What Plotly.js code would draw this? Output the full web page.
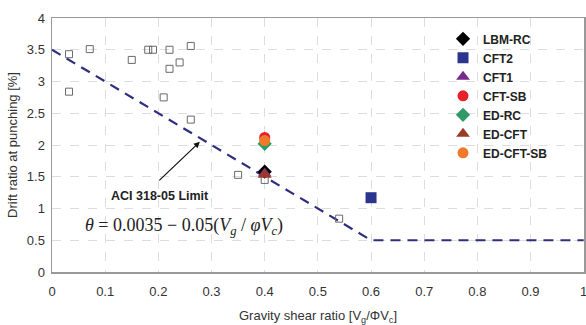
<!DOCTYPE html>
<html><head><meta charset="utf-8">
<script src="https://cdn.plot.ly/plotly-3.0.1.min.js"></script>
<style>html,body{margin:0;padding:0;background:#fff}#chart{width:586px;height:325px}</style>
</head><body><div id="chart"></div>
<script>
// Existing test database (open squares)
const dbX = [0.032, 0.032, 0.071, 0.15, 0.181, 0.19, 0.221, 0.221, 0.24, 0.21, 0.261, 0.261, 0.35, 0.40, 0.54];
const dbY = [3.43, 2.84, 3.51, 3.34, 3.50, 3.50, 3.50, 3.20, 3.30, 2.75, 3.56, 2.40, 1.53, 1.45, 0.84];
// ACI 318-05 limit line
const limitX = [0, 0.6, 1.0];
const limitY = [3.5, 0.5, 0.5];
// Specimens
const specNames = ["LBM-RC", "CFT2", "CFT1", "CFT-SB", "ED-RC", "ED-CFT", "ED-CFT-SB"];
const specX = [0.4, 0.6, 0.4, 0.4, 0.4, 0.4, 0.4];
const specY = [1.58, 1.17, 1.55, 2.12, 2.02, 1.53, 2.07];
const specSymbols = ["diamond", "square", "triangle-up", "circle", "diamond", "triangle-up", "circle"];
const specColors = ["#000000", "#2b3590", "#7a2a8c", "#e8202a", "#2f9a68", "#9a3b28", "#f07a2a"];
const specSizes = [11, 11, 12, 11, 11, 12, 11];
// Tick values
const xTicks = [0, 0.1, 0.2, 0.3, 0.4, 0.5, 0.6, 0.7, 0.8, 0.9, 1];
const xTickText = ["0", "0.1", "0.2", "0.3", "0.4", "0.5", "0.6", "0.7", "0.8", "0.9", "1"];
const yTicks = [0, 0.5, 1, 1.5, 2, 2.5, 3, 3.5, 4];
const yTickText = ["0", "0.5", "1", "1.5", "2", "2.5", "3", "3.5", "4"];

const traces = [];
traces.push({x: limitX, y: limitY, mode: "lines", showlegend: false, hoverinfo: "skip",
  line: {color: "#2e2e80", width: 2.2, dash: "10px,7px"}});
traces.push({x: dbX, y: dbY, mode: "markers", showlegend: false,
  marker: {symbol: "square-open", size: 7, color: "#6a6a6a", line: {width: 1}}});
for (let i = 0; i < specNames.length; i++) {
  traces.push({x: [specX[i]], y: [specY[i]], mode: "markers", name: specNames[i],
    marker: {symbol: specSymbols[i], size: specSizes[i], color: specColors[i]}});
}

const layout = {
  width: 586, height: 325,
  margin: {l: 52, r: 2, t: 18, b: 53},
  paper_bgcolor: "#fff", plot_bgcolor: "#fff",
  font: {family: "Liberation Sans, Arial, sans-serif", size: 13, color: "#333"},
  xaxis: {range: [0, 1.0005], tickmode: "array", tickvals: xTicks, ticktext: xTickText,
    showgrid: true, gridcolor: "#dddddd", griddash: "dash", ticklabeloverflow: "allow",
    zeroline: false, showline: true, linecolor: "#999", linewidth: 1.5, mirror: true, ticks: "",
    tickfont: {size: 13, color: "#333"}, ticklabelstandoff: 7,
    title: {text: "Gravity shear ratio [V<sub>g</sub>/ΦV<sub>c</sub>]", font: {size: 13, color: "#333"}, standoff: 14}},
  yaxis: {range: [0, 4], tickmode: "array", tickvals: yTicks, ticktext: yTickText,
    showgrid: true, gridcolor: "#dddddd", griddash: "dash",
    zeroline: false, showline: true, linecolor: "#999", linewidth: 1.5, mirror: true, ticks: "",
    tickfont: {size: 13, color: "#333"}, ticklabelstandoff: 3,
    title: {text: "Drift ratio at punching [%]", font: {size: 13, color: "#333"}, standoff: 6}},
  legend: {x: 0.735, y: 0.975, xanchor: "left", yanchor: "top", bgcolor: "rgba(0,0,0,0)",
    font: {size: 12, color: "#222", weight: "bold"}, tracegroupgap: 0, itemwidth: 30},
  annotations: [
    {x: 0.278, y: 2.05, ax: 0.199, ay: 1.42, axref: "x", ayref: "y", xref: "x", yref: "y",
      text: "", showarrow: true, arrowhead: 2, arrowsize: 1, arrowwidth: 1.2, arrowcolor: "#111"},
    {x: 0.203, y: 1.2, xref: "x", yref: "y", text: "<b>ACI 318-05 Limit</b>", showarrow: false,
      font: {size: 12.5, color: "#222"}},
    {x: 0.248, y: 0.71, xref: "x", yref: "y", showarrow: false,
      text: "<i>θ</i> = 0.0035 − 0.05(<i>V</i><sub><i>g</i></sub> / <i>φV</i><sub><i>c</i></sub>)",
      font: {family: "Liberation Serif, Times New Roman, serif", size: 18, color: "#222"}}
  ]
};
Plotly.newPlot("chart", traces, layout, {displayModeBar: false, staticPlot: true});
</script></body></html>
